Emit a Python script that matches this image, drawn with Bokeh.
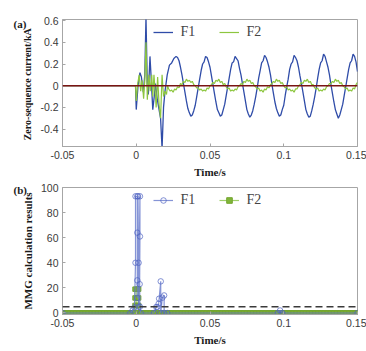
import numpy as np
from bokeh.plotting import figure
from bokeh.models import (FixedTicker, Range1d, Legend, LegendItem, Span)
from bokeh.layouts import column
from bokeh.embed import file_html
from bokeh.resources import INLINE

# ---------------- data ----------------
x_ticks = [-0.05, 0, 0.05, 0.1, 0.15]
x_tick_labels = ["-0.05", "0", "0.05", "0.1", "0.15"]
ya_ticks = [-0.4, -0.2, 0, 0.2, 0.4, 0.6]
ya_tick_labels = ["-0.4", "-0.2", "0", "0.2", "0.4", "0.6"]
yb_ticks = [0, 20, 40, 60, 80, 100]
yb_tick_labels = ["0", "20", "40", "60", "80", "100"]

# (a) zero-sequence current, F1 : fault transient
f1_transient_t = [-0.05, -0.0005, 0.0, 0.0012, 0.0025, 0.0035, 0.0048, 0.0058, 0.0066,
                  0.0075, 0.0082, 0.0093, 0.0102, 0.0112, 0.0122, 0.013, 0.0142, 0.0152,
                  0.0165, 0.0175, 0.0185, 0.0195, 0.021, 0.0225, 0.024, 0.0255, 0.027]
f1_transient_i = [0.0, 0.0, -0.22, 0.0, 0.12, 0.08, -0.06, 0.1, 0.63, 0.0, -0.08, 0.27,
                  0.05, -0.22, -0.1, 0.02, -0.12, -0.2, -0.3, -0.58, -0.2, -0.05, 0.1,
                  0.19, 0.21, 0.25, 0.27]
# F1 steady state, one sample per ms from 0.028 s to 0.150 s
f1_steady_i = [
    0.26, 0.23, 0.17, 0.10, 0.02, -0.06, -0.14, -0.21, -0.25, -0.28,
    -0.27, -0.23, -0.18, -0.10, -0.02, 0.06, 0.14, 0.20, 0.22, 0.27,
    0.26, 0.22, 0.17, 0.09, 0.01, -0.07, -0.15, -0.22, -0.25, -0.28,
    -0.27, -0.22, -0.17, -0.09, -0.01, 0.07, 0.15, 0.21, 0.22, 0.27,
    0.25, 0.23, 0.16, 0.10, 0.02, -0.06, -0.14, -0.22, -0.26, -0.29,
    -0.27, -0.23, -0.17, -0.10, -0.02, 0.07, 0.14, 0.21, 0.23, 0.28,
    0.26, 0.22, 0.17, 0.10, 0.01, -0.07, -0.15, -0.21, -0.25, -0.28,
    -0.27, -0.22, -0.18, -0.09, -0.01, 0.06, 0.15, 0.20, 0.22, 0.28,
    0.26, 0.23, 0.17, 0.09, 0.02, -0.06, -0.14, -0.22, -0.26, -0.29,
    -0.28, -0.23, -0.17, -0.10, -0.02, 0.07, 0.15, 0.21, 0.23, 0.29,
    0.27, 0.22, 0.17, 0.10, 0.01, -0.07, -0.15, -0.22, -0.26, -0.30,
    -0.27, -0.22, -0.17, -0.09, -0.01, 0.07, 0.15, 0.21, 0.23, 0.29,
    0.27, 0.22, 0.13]

# (a) F2 : fault transient
f2_transient_t = [-0.05, -0.0005, 0.0, 0.001, 0.002, 0.003, 0.004, 0.005, 0.0058, 0.0066,
                  0.0075, 0.0085, 0.0095, 0.0105, 0.0112, 0.012, 0.0128, 0.0135, 0.0145,
                  0.0155, 0.0165, 0.0175, 0.0185, 0.0195, 0.0205, 0.0212]
f2_transient_i = [0.0, 0.0, -0.14, 0.02, 0.1, -0.05, 0.05, -0.12, 0.05, 0.4,
                  -0.13, 0.1, -0.05, 0.1, -0.1, 0.1, -0.05, -0.2, 0.08,
                  -0.18, -0.3, 0.1, -0.1, -0.05, -0.08, 0.0]
# F2 steady state, one sample per ms from 0.022 s to 0.150 s
f2_steady_i = [
    -0.03, -0.05, -0.04, -0.06, -0.03, -0.04, -0.01, -0.02, 0.02, 0.01,
    0.04, 0.03, 0.06, 0.04, 0.05, 0.03, 0.04, 0.01, 0.00, -0.02,
    -0.02, -0.04, -0.03, -0.05, -0.04, -0.05, -0.02, -0.03, 0.00, 0.01,
    0.03, 0.02, 0.05, 0.04, 0.06, 0.03, 0.04, 0.01, 0.02, -0.01,
    -0.03, -0.02, -0.05, -0.04, -0.05, -0.03, -0.04, -0.01, 0.00, 0.02,
    0.01, 0.04, 0.03, 0.06, 0.04, 0.05, 0.02, 0.03, 0.00, -0.01,
    -0.03, -0.02, -0.05, -0.04, -0.06, -0.03, -0.04, -0.01, -0.02, 0.01,
    0.02, 0.04, 0.03, 0.06, 0.04, 0.05, 0.02, 0.03, 0.00, -0.02,
    -0.01, -0.04, -0.03, -0.05, -0.04, -0.06, -0.03, -0.03, 0.00, 0.01,
    0.03, 0.02, 0.05, 0.04, 0.06, 0.03, 0.04, 0.01, 0.01, -0.02,
    -0.03, -0.02, -0.05, -0.04, -0.05, -0.03, -0.04, -0.01, 0.00, 0.02,
    0.02, 0.04, 0.03, 0.06, 0.04, 0.05, 0.02, 0.03, 0.00, -0.01,
    -0.03, -0.02, -0.05, -0.04, -0.05, -0.02, -0.03, 0.01, 0.03]

# (b) MMG calculation results
mmg_f1_t = [-0.05, -0.004, -0.0025, -0.0012, -0.0005, -0.0005, 0.0007, 0.0007, 0.0007,
            0.0007, 0.0012, 0.0016, 0.0016, 0.0025, 0.0025, 0.0023, 0.0025, 0.003,
            0.012, 0.0136, 0.0143, 0.0152, 0.0155, 0.0166, 0.0166, 0.0177, 0.0189,
            0.0189, 0.021, 0.096, 0.0975, 0.099, 0.15]
mmg_f1_v = [0, 0, 2, 4.5, 40, 93, 93, 64, 26,
            12, 93, 40, 5, 93, 61, 23, 5, 0,
            0, 4.8, 4.8, 7.4, 11.4, 25.2, 0, 12.2, 14,
            0, 0, 0, 2, 0, 0]
mmg_f2_burst_t = [-0.0008, -0.0008, -0.0008, 0.0004, 0.0004, 0.0004, 0.0016, 0.0016, 0.0016, 0.0016]
mmg_f2_burst_v = [6, 12, 19, 19, 12, 6, 6, 12, 19, 0]
mmg_threshold = 5

# ---------------- build series ----------------
f1_t = f1_transient_t + list(np.round(np.arange(0.028, 0.1505, 0.001), 3))
f1_i = f1_transient_i + f1_steady_i
f2_t = f2_transient_t + list(np.round(np.arange(0.022, 0.1505, 0.001), 3))
f2_i = f2_transient_i + f2_steady_i

base_t = list(np.round(np.arange(-0.05, 0.1505, 0.001), 3))
mmg_f2_t = [t for t in base_t if t < -0.0009] + mmg_f2_burst_t + [t for t in base_t if t > 0.0017]
mmg_f2_v = [0.0 for t in base_t if t < -0.0009] + mmg_f2_burst_v + [0.0 for t in base_t if t > 0.0017]

SERIF = "Liberation Serif"
SANS = "Liberation Sans"
FRAME = "#a6a6a6"
BLUE = "#2f4ca8"
GREEN = "#8dc63f"


def style_axis(ax, ticks, labels, label, label_size="11px"):
    ax.ticker = FixedTicker(ticks=ticks)
    ax.major_label_overrides = dict(zip(ticks, labels))
    ax.minor_tick_line_color = None
    ax.major_tick_in = 3
    ax.major_tick_out = 0
    ax.axis_line_color = FRAME
    ax.major_tick_line_color = FRAME
    ax.major_label_text_font = SANS
    ax.major_label_text_font_size = "10.5px"
    ax.major_label_text_color = "#3a3a3a"
    ax.major_label_standoff = 4
    ax.axis_label = label
    ax.axis_label_text_font = SERIF
    ax.axis_label_text_font_style = "bold"
    ax.axis_label_text_font_size = label_size
    ax.axis_label_text_color = "#1a1a1a"
    ax.axis_label_standoff = 4


def make_fig(height, ymin, ymax, top, bottom, panel, standoff):
    p = figure(width=366, height=height, x_range=Range1d(-0.05, 0.15),
               y_range=Range1d(ymin, ymax), output_backend="svg",
               toolbar_location=None, min_border_left=62, min_border_right=9,
               min_border_top=top, min_border_bottom=bottom, title=panel)
    p.title.align = "left"
    p.title.offset = -49
    p.title.standoff = standoff
    p.title.text_font = SERIF
    p.title.text_font_style = "bold"
    p.title.text_font_size = "11px"
    p.title.text_color = "#1a1a1a"
    p.xgrid.visible = False
    p.ygrid.visible = False
    p.outline_line_color = FRAME
    p.background_fill_color = "white"
    p.border_fill_color = "white"
    return p


def make_legend(items):
    return Legend(items=items, orientation="horizontal", location="top_center",
                  border_line_color=None, background_fill_alpha=0,
                  label_text_font=SERIF, label_text_font_size="14px",
                  glyph_width=20, glyph_height=14, label_height=14,
                  label_standoff=8, spacing=18, padding=0, margin=5)


# ---------------- (a) ----------------
p1 = make_fig(180, -0.56, 0.61, 19, 34, "(a)", -20)
r1 = p1.line(f1_t, f1_i, line_color=BLUE, line_width=1.3)
r2 = p1.line(f2_t, f2_i, line_color=GREEN, line_width=1.2)
p1.add_layout(Span(location=0, dimension="width", line_color="#7a1414", line_width=1.4))
style_axis(p1.xaxis[0], x_ticks, x_tick_labels, "Time/s")
style_axis(p1.yaxis[0], ya_ticks, ya_tick_labels, "Zero-sequence  current/kA", "10px")
p1.add_layout(make_legend([LegendItem(label="F1", renderers=[r1]),
                           LegendItem(label="F2", renderers=[r2])]))

# ---------------- (b) ----------------
p2 = make_fig(171, -1.2, 100, 7, 37, "(b)", -16)
g_line = p2.line(mmg_f2_t, mmg_f2_v, line_color="#9fcf6a", line_width=1.2)
g_pts = p2.scatter(mmg_f2_t, mmg_f2_v, marker="square", size=4.5,
                   line_color="#74a52f", fill_color="#80b53a")
b_line = p2.line(mmg_f1_t, mmg_f1_v, line_color="#6679cc", line_width=1.2, line_alpha=0.8)
b_pts = p2.scatter(mmg_f1_t, mmg_f1_v, marker="circle", size=5.5, line_color="#5064c2",
                   fill_color=None, line_width=1, line_alpha=0.7)
p2.add_layout(Span(location=mmg_threshold, dimension="width", line_color="#3a3a3a",
                   line_width=1.5, line_dash="7 4"))
style_axis(p2.xaxis[0], x_ticks, x_tick_labels, "Time/s")
style_axis(p2.yaxis[0], yb_ticks, yb_tick_labels, "MMG calculation results")
p2.add_layout(make_legend([LegendItem(label="F1", renderers=[b_line, b_pts]),
                           LegendItem(label="F2", renderers=[g_line, g_pts])]))

layout = column(p1, p2, spacing=0)
open("out.html", "w").write(file_html(layout, INLINE))
